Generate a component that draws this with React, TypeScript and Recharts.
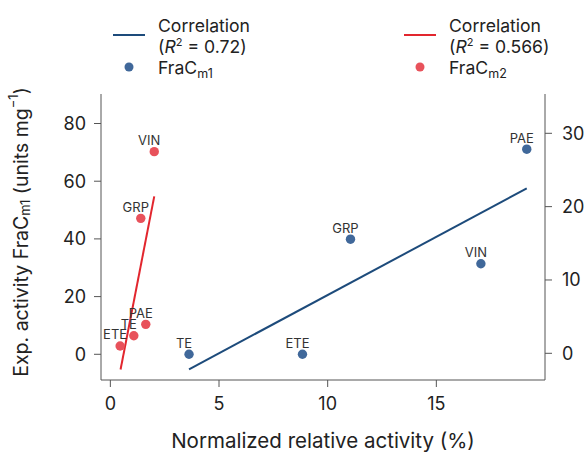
import React from 'react';
import { ComposedChart, Scatter, XAxis, YAxis, LabelList } from 'recharts';

// FraC_m1 (left axis)
const m1Names = ['TE', 'ETE', 'GRP', 'VIN', 'PAE'];
const m1X = [3.62, 8.84, 11.05, 17.05, 19.16];
const m1Y = [0, 0, 39.9, 31.4, 71.1];
// FraC_m2 (right axis)
const m2Names = ['ETE', 'TE', 'PAE', 'GRP', 'VIN'];
const m2X = [0.45, 1.08, 1.63, 1.4, 2.02];
const m2Y = [1.0, 2.4, 3.95, 18.4, 27.5];
// Correlation lines
const fit1X = [3.62, 19.16];
const fit1Y = [-5.2, 57.5];
const fit2X = [0.47, 2.02];
const fit2Y = [-2.2, 21.4];

const xTicks = [0, 5, 10, 15];
const leftTicks = [0, 20, 40, 60, 80];
const rightTicks = [0, 10, 20, 30];

const r2m1 = '0.72';
const r2m2 = '0.566';

const BLUE_DOT = '#40689a';
const BLUE_LINE = '#1d4b7b';
const RED_DOT = '#e8525b';
const RED_LINE = '#e2262e';
const AXIS = '#555';
const TXT = '#222';
const FONT = 'Inter, "Open Sans", sans-serif';

const m1Data = m1Names.map((n, i) => ({ name: n, x: m1X[i], y: m1Y[i] }));
const m2Data = m2Names.map((n, i) => ({ name: n, x: m2X[i], y: m2Y[i] }));
const fit1Data = fit1X.map((x, i) => ({ x, y: fit1Y[i] }));
const fit2Data = fit2X.map((x, i) => ({ x, y: fit2Y[i] }));

const PointLabel = (props: any) => {
  const { x, y, width, height, value } = props;
  const cx = x + (width || 0) / 2;
  const cy = y + (height || 0) / 2;
  return (
    <text x={cx - 5} y={cy - 6.5} textAnchor="middle" fontSize={13} fill="#333" fontFamily={FONT}>
      {value}
    </text>
  );
};

const dot = (color: string) => (p: any) => <circle cx={p.cx} cy={p.cy} r={4.7} fill={color} />;
const none = () => <g />;

const YTitle = () => (
  <text
    x={21}
    y={232}
    transform="rotate(-90, 21, 232)"
    textAnchor="middle"
    dominantBaseline="central"
    fontSize={19.5}
    fill={TXT}
    fontFamily={FONT}
  >
    Exp. activity FraC
    <tspan fontSize={13} dy={4}>m1</tspan>
    <tspan dy={-4}> (units mg</tspan>
    <tspan fontSize={13} dy={-8}>−1</tspan>
    <tspan dy={8}>)</tspan>
  </text>
);

const XTitle = () => (
  <text x={323} y={448} textAnchor="middle" fontSize={20.5} fill={TXT} fontFamily={FONT}>
    Normalized relative activity (%)
  </text>
);

const LegendBlock = ({ x, lineColor, dotColor, r2, sub }: any) => (
  <g fontFamily={FONT} fill={TXT} fontSize={17.6}>
    <line x1={x} x2={x + 32} y1={35} y2={35} stroke={lineColor} strokeWidth={2} />
    <circle cx={x + 16} cy={67} r={4.5} fill={dotColor} />
    <text x={x + 45} y={32}>Correlation</text>
    <text x={x + 45} y={53}>
      (<tspan fontStyle="italic">R</tspan>
      <tspan fontSize={11} dy={-7}>2</tspan>
      <tspan dy={7}> = {r2})</tspan>
    </text>
    <text x={x + 45} y={74}>
      FraC<tspan fontSize={12.5} dy={4}>{sub}</tspan>
    </text>
  </g>
);

export default function App() {
  return (
    <div style={{ position: 'absolute', left: 0, top: 0, width: 586, height: 453 }}>
      <ComposedChart width={586} height={453} margin={{ top: 94, right: 1, left: 41, bottom: 33 }}>
        <XAxis
          xAxisId="b"
          type="number"
          dataKey="x"
          domain={[-0.43, 20.0]}
          ticks={xTicks}
          allowDataOverflow
          height={40}
          stroke={AXIS}
          tickSize={7}
          tickMargin={10}
          tick={{ fontSize: 18, fill: TXT, fontFamily: FONT }}
          label={<XTitle />}
        />
        <XAxis
          xAxisId="t"
          orientation="top"
          type="number"
          dataKey="x"
          domain={[-0.43, 20.0]}
          allowDataOverflow
          height={0}
          tick={false}
          tickLine={false}
          stroke={AXIS}
        />
        <YAxis
          yAxisId="l"
          type="number"
          dataKey="y"
          domain={[-8.91, 90.23]}
          ticks={leftTicks}
          allowDataOverflow
          width={60}
          stroke={AXIS}
          tickSize={7}
          tickMargin={8}
          tick={{ fontSize: 18, fill: TXT, fontFamily: FONT }}
          label={<YTitle />}
        />
        <YAxis
          yAxisId="r"
          orientation="right"
          type="number"
          dataKey="y"
          domain={[-3.64, 35.36]}
          ticks={rightTicks}
          allowDataOverflow
          width={40}
          stroke={AXIS}
          tickSize={7}
          tickMargin={10}
          tick={{ fontSize: 18, fill: TXT, fontFamily: FONT }}
        />
        <Scatter
          xAxisId="b"
          yAxisId="l"
          data={fit1Data}
          line={{ stroke: BLUE_LINE, strokeWidth: 2 }}
          shape={none}
          isAnimationActive={false}
        />
        <Scatter
          xAxisId="b"
          yAxisId="r"
          data={fit2Data}
          line={{ stroke: RED_LINE, strokeWidth: 2 }}
          shape={none}
          isAnimationActive={false}
        />
        <Scatter xAxisId="b" yAxisId="l" data={m1Data} shape={dot(BLUE_DOT)} isAnimationActive={false}>
          <LabelList dataKey="name" content={<PointLabel />} />
        </Scatter>
        <Scatter xAxisId="b" yAxisId="r" data={m2Data} shape={dot(RED_DOT)} isAnimationActive={false}>
          <LabelList dataKey="name" content={<PointLabel />} />
        </Scatter>
      </ComposedChart>
      <svg width={586} height={90} style={{ position: 'absolute', left: 0, top: 0 }}>
        <LegendBlock x={113} lineColor={BLUE_LINE} dotColor={BLUE_DOT} r2={r2m1} sub="m1" />
        <LegendBlock x={404} lineColor={RED_LINE} dotColor={RED_DOT} r2={r2m2} sub="m2" />
      </svg>
    </div>
  );
}
